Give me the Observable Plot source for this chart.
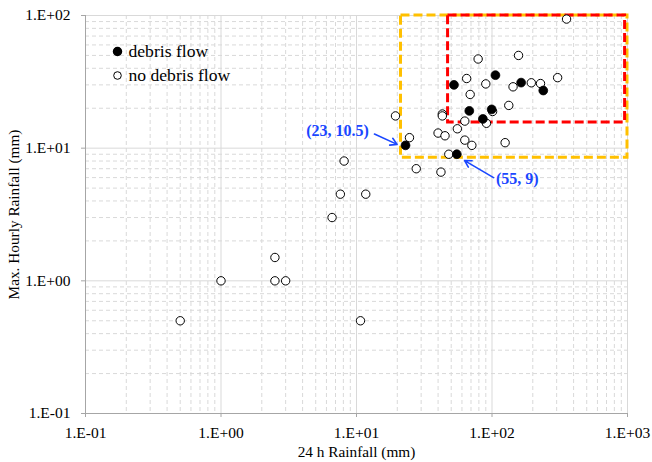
<!DOCTYPE html>
<html>
<head>
<meta charset="utf-8">
<script src="https://cdn.jsdelivr.net/npm/d3@7"></script>
<script src="https://cdn.jsdelivr.net/npm/@observablehq/plot@0.6"></script>
<style>
  html, body { margin: 0; padding: 0; background: #fff; }
  #chart { width: 652px; height: 462px; }
  #chart svg, #chart svg text { font-family: 'Liberation Serif', 'Times New Roman', serif !important; }
  #chart g[aria-label="x-axis tick label"] text,
  #chart g[aria-label="y-axis tick label"] text { font-size: 15.5px !important; }
  #chart g[aria-label="axis-title"] text { font-size: 15.3px !important; }
  #chart g[aria-label="legend"] text { font-size: 17.6px !important; }
  #chart g[aria-label="annotation"] text { font-size: 16px !important; font-weight: bold !important; }
</style>
</head>
<body>
<div id="chart"></div>
<script>
// ---- data ----
const debrisX = [52.4, 106, 164, 239, 68, 99.5, 85.6, 23, 55];
const debrisY = [30.0, 35.5, 31.2, 27.2, 19.1, 19.6, 16.6, 10.5, 9];

const noDebrisX = [355, 79, 157, 65, 90, 69, 143, 195, 228, 305, 133, 101, 91, 63, 55.5, 43, 43, 19.4, 40, 45, 63, 71, 125, 24.6, 48, 27.6, 42, 8.1, 7.6, 11.7, 6.6, 2.5, 1, 2.5, 3, 0.5, 10.7];
const noDebrisY = [94, 47, 50, 33.5, 30.5, 25.4, 29, 31.1, 30.7, 34, 21, 18.9, 15.4, 16, 14, 18.1, 17.5, 17.5, 13, 12.4, 11.5, 10.5, 11, 12, 9, 7, 6.6, 8, 4.5, 4.5, 3, 1.5, 1, 1, 1, 0.5, 0.5];

const xTicks = [0.1, 1, 10, 100, 1000];
const xTickLabels = ["1.E-01", "1.E+00", "1.E+01", "1.E+02", "1.E+03"];
const yTicks = [0.1, 1, 10, 100];
const yTickLabels = ["1.E-01", "1.E+00", "1.E+01", "1.E+02"];

const seriesNames = ["debris flow", "no debris flow"];

// highlighted regions
const yellowBox = {x1: 21.3, x2: 1000, y1: 8.45, y2: 100};
const redBox = {x1: 47.4, x2: 960, y1: 15.6, y2: 100};

// annotations
const annotations = [
  {label: "(23, 10.5)", tx: 7.24, ty: 13.45, ax1: 13.57, ay1: 12.77, ax2: 19.94, ay2: 10.68},
  {label: "(55, 9)", tx: 153.5, ty: 5.82, ax1: 102.7, ay1: 6.0, ax2: 62.8, ay2: 8.05}
];

// ---- build tables ----
const debris = debrisX.map((x, i) => ({x, y: debrisY[i]}));
const noDebris = noDebrisX.map((x, i) => ({x, y: noDebrisY[i]}));
const minorOf = ticks => ticks.slice(0, -1).flatMap(d => d3.range(2, 10).map(m => d * m));
const xMinor = minorOf(xTicks);
const yMinor = minorOf(yTicks);
const xLab = new Map(xTicks.map((d, i) => [d, xTickLabels[i]]));
const yLab = new Map(yTicks.map((d, i) => [d, yTickLabels[i]]));

const gridC = "#d9d9d9";
const axisC = "#a6a6a6";
const blue = "#1a47ff";
const font = "'Liberation Serif', 'Times New Roman', serif";

const chart = Plot.plot({
  width: 652,
  height: 462,
  marginLeft: 85,
  marginRight: 25,
  marginTop: 15,
  marginBottom: 49,
  style: {fontFamily: font, fontSize: "15.5px", background: "#fff", color: "#000"},
  x: {type: "log", domain: [0.1, 1000]},
  y: {type: "log", domain: [0.1, 100]},
  marks: [
    // grid
    Plot.ruleX(xMinor, {stroke: gridC, strokeDasharray: "4,3", strokeWidth: 1}),
    Plot.ruleY(yMinor, {stroke: gridC, strokeDasharray: "4,3", strokeWidth: 1}),
    Plot.ruleX(xTicks.slice(1), {stroke: gridC, strokeWidth: 1}),
    Plot.ruleY(yTicks.slice(1), {stroke: gridC, strokeWidth: 1}),
    // axis lines
    Plot.ruleX([0.1], {stroke: axisC, strokeWidth: 1}),
    Plot.ruleY([0.1], {stroke: axisC, strokeWidth: 1}),
    Plot.axisX(xTicks, {tickFormat: d => xLab.get(d), tickSize: 4, tickPadding: 9, stroke: axisC, fill: "#000", fontSize: 15.5, label: null}),
    Plot.axisY(yTicks, {tickFormat: d => yLab.get(d), tickSize: 4, tickPadding: 11, stroke: axisC, fill: "#000", fontSize: 15.5, label: null}),
    // axis titles
    Plot.text(["24 h Rainfall (mm)"], {frameAnchor: "bottom", dy: 39, textAnchor: "middle", lineAnchor: "middle", fontSize: 15.3, fill: "#000", ariaLabel: "axis-title"}),
    Plot.text(["Max. Hourly Rainfall (mm)"], {frameAnchor: "left", dx: -71, rotate: -90, textAnchor: "middle", lineAnchor: "middle", fontSize: 15.3, fill: "#000", ariaLabel: "axis-title"}),
    // highlighted boxes
    Plot.rect([yellowBox], {x1: "x1", x2: "x2", y1: "y1", y2: "y2", fill: "none", stroke: "#ffc000", strokeWidth: 3, strokeDasharray: "9,4"}),
    Plot.rect([redBox], {x1: "x1", x2: "x2", y1: "y1", y2: "y2", fill: "none", stroke: "#ff0000", strokeWidth: 3, strokeDasharray: "9,4"}),
    // points
    Plot.dot(noDebris, {x: "x", y: "y", r: 4.2, fill: "#fff", stroke: "#000", strokeWidth: 1}),
    Plot.dot(debris, {x: "x", y: "y", r: 4.4, fill: "#000", stroke: "#000", strokeWidth: 0.8}),
    // annotations
    Plot.arrow(annotations, {x1: "ax1", y1: "ay1", x2: "ax2", y2: "ay2", stroke: blue, strokeWidth: 1.6, headLength: 7}),
    Plot.text(annotations, {x: "tx", y: "ty", text: "label", fill: blue, fontWeight: "bold", fontSize: 16, lineAnchor: "middle", ariaLabel: "annotation"}),
    // legend
    Plot.dot([seriesNames[0]], {frameAnchor: "top-left", dx: 32, dy: 36, r: 4, fill: "#000", stroke: "#000"}),
    Plot.text([seriesNames[0]], {frameAnchor: "top-left", dx: 43, dy: 36, textAnchor: "start", lineAnchor: "middle", fontSize: 17.6, fill: "#000", ariaLabel: "legend"}),
    Plot.dot([seriesNames[1]], {frameAnchor: "top-left", dx: 32, dy: 60, r: 3.8, fill: "#fff", stroke: "#000", strokeWidth: 1}),
    Plot.text([seriesNames[1]], {frameAnchor: "top-left", dx: 43, dy: 60, textAnchor: "start", lineAnchor: "middle", fontSize: 17.6, fill: "#000", ariaLabel: "legend"})
  ]
});
document.getElementById("chart").appendChild(chart);
</script>
</body>
</html>
